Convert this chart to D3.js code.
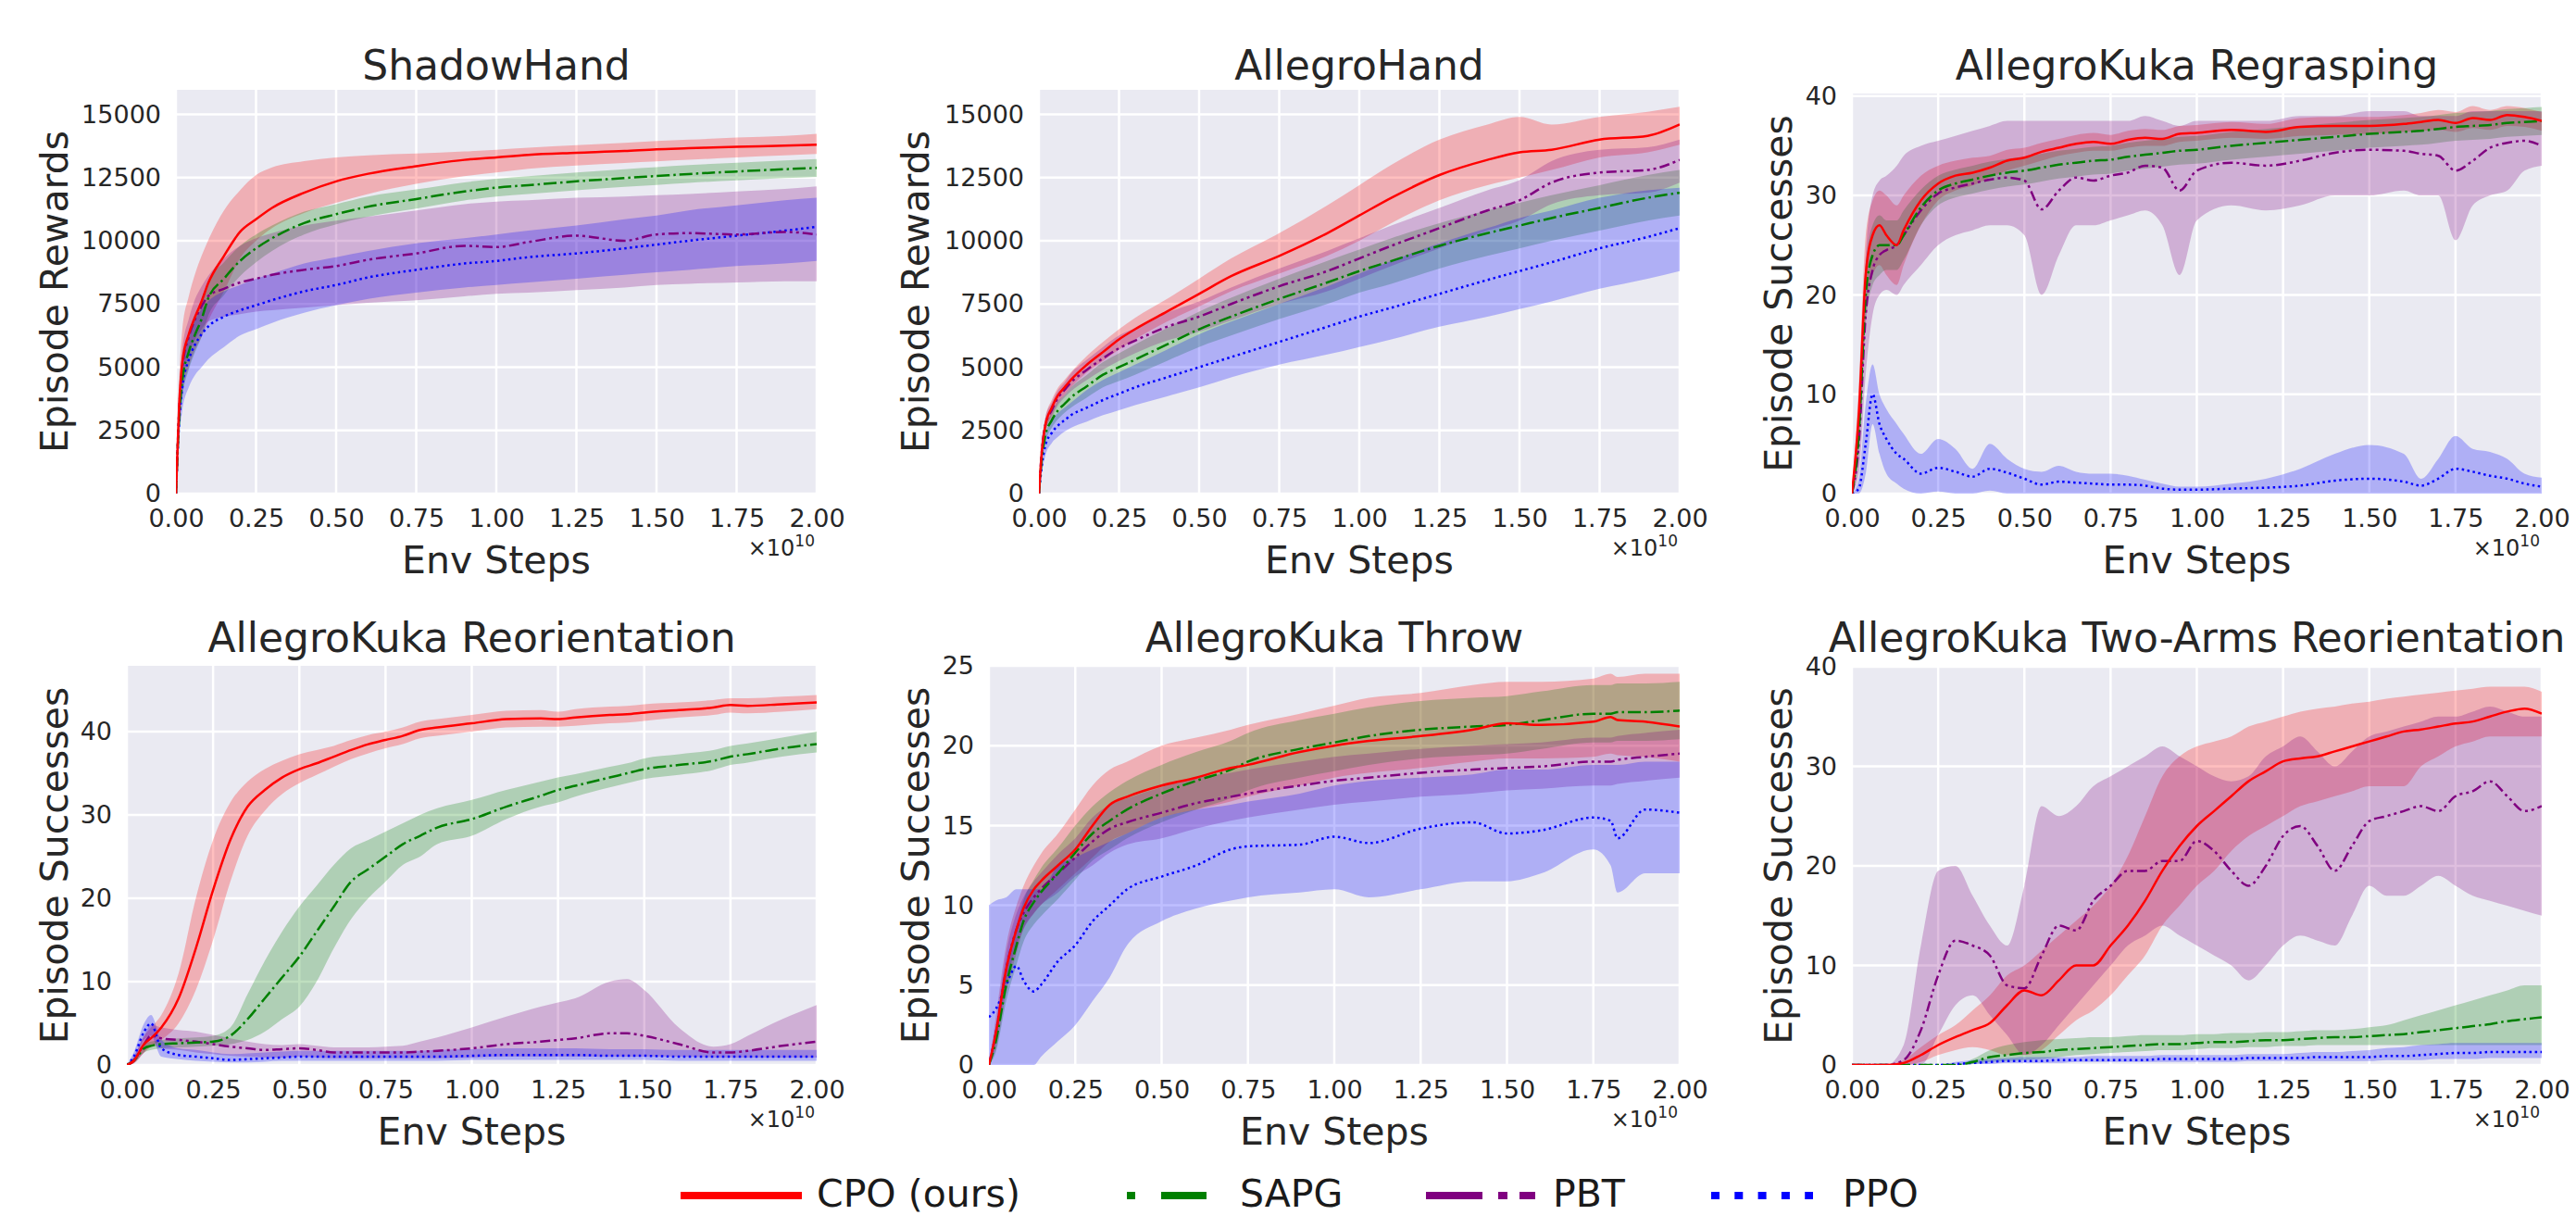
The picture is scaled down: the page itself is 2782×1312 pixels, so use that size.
<!DOCTYPE html>
<html>
<head>
<meta charset="utf-8">
<script src="https://cdn.jsdelivr.net/npm/d3@7"></script>
<style>
  body { margin: 0; background: #fff; }
  svg text { font-family: "DejaVu Sans", sans-serif; fill: #262626; }
</style>
</head>
<body>
<div id="cont"></div>
<script>

// tick values and labels
var stepTicks = [0, 0.25, 0.5, 0.75, 1.0, 1.25, 1.5, 1.75, 2.0];
var stepLabels = ["0.00", "0.25", "0.50", "0.75", "1.00", "1.25", "1.50", "1.75", "2.00"];
var rewardTicks = [0, 2500, 5000, 7500, 10000, 12500, 15000];
var successTicks = [0, 10, 20, 30, 40];
var throwTicks = [0, 5, 10, 15, 20, 25];

// ---------- ShadowHand ----------
var shadowX = [0, 0.01, 0.02, 0.04, 0.06, 0.08, 0.1, 0.15, 0.2, 0.25, 0.3, 0.4, 0.5, 0.6, 0.75, 0.9, 1.0, 1.1, 1.25, 1.4, 1.5, 1.6, 1.75, 1.9, 2.0];
var shadowCPO   = [0, 3500, 5200, 6300, 7000, 7600, 8300, 9400, 10350, 10850, 11300, 11900, 12350, 12650, 12950, 13200, 13300, 13400, 13480, 13550, 13620, 13660, 13720, 13760, 13800];
var shadowCPOLo = [0, 2500, 3900, 5000, 5700, 6200, 6800, 8000, 9300, 10000, 10500, 11100, 11500, 11850, 12250, 12550, 12700, 12850, 12980, 13080, 13140, 13200, 13300, 13380, 13430];
var shadowCPOHi = [0, 4500, 6500, 7800, 8700, 9400, 10000, 11200, 12000, 12600, 12900, 13150, 13300, 13380, 13450, 13530, 13600, 13680, 13780, 13870, 13950, 14000, 14080, 14150, 14230];
var shadowSAPG   = [0, 3000, 4500, 5600, 6300, 6900, 7700, 8500, 9200, 9700, 10100, 10700, 11050, 11350, 11650, 11950, 12100, 12200, 12350, 12480, 12560, 12640, 12740, 12830, 12880];
var shadowSAPGLo = [0, 2500, 3800, 4900, 5600, 6200, 7000, 7850, 8600, 9150, 9600, 10250, 10650, 10950, 11270, 11590, 11750, 11850, 12000, 12130, 12210, 12290, 12390, 12480, 12530];
var shadowSAPGHi = [0, 3500, 5200, 6300, 7000, 7600, 8400, 9150, 9800, 10250, 10600, 11150, 11450, 11750, 12030, 12310, 12450, 12550, 12700, 12830, 12910, 12990, 13090, 13180, 13230];
var shadowPBT   = [0, 3300, 5000, 6200, 6900, 7400, 7800, 8100, 8350, 8500, 8650, 8850, 9000, 9250, 9500, 9800, 9750, 9950, 10200, 10000, 10250, 10300, 10250, 10350, 10250];
var shadowPBTLo = [0, 2800, 4300, 5500, 6100, 6500, 6800, 7000, 7100, 7200, 7250, 7350, 7450, 7550, 7650, 7800, 7900, 7950, 8050, 8150, 8250, 8300, 8350, 8400, 8400];
var shadowPBTHi = [0, 3800, 5700, 6900, 7700, 8200, 8600, 9300, 9800, 10100, 10300, 10600, 10800, 10950, 11200, 11450, 11550, 11600, 11700, 11750, 11800, 11850, 11950, 12050, 12150];
var shadowPPO   = [0, 2800, 4200, 5300, 5900, 6300, 6600, 7000, 7250, 7450, 7650, 8000, 8250, 8550, 8850, 9100, 9200, 9350, 9500, 9700, 9850, 10000, 10200, 10400, 10550];
var shadowPPOLo = [0, 2200, 3300, 4200, 4700, 5000, 5300, 5800, 6250, 6500, 6750, 7150, 7450, 7700, 7950, 8150, 8250, 8350, 8500, 8650, 8750, 8850, 9000, 9100, 9200];
var shadowPPOHi = [0, 3400, 5000, 6300, 6900, 7300, 7600, 8000, 8250, 8500, 8700, 9100, 9350, 9600, 9900, 10100, 10250, 10400, 10600, 10850, 11000, 11200, 11400, 11600, 11700];

// ---------- AllegroHand ----------
var allegroX = [0, 0.01, 0.02, 0.04, 0.06, 0.08, 0.1, 0.15, 0.2, 0.25, 0.3, 0.4, 0.5, 0.6, 0.75, 0.9, 1.0, 1.1, 1.25, 1.4, 1.5, 1.6, 1.75, 1.9, 2.0];
var allegroCPO   = [0, 1800, 2700, 3400, 3900, 4200, 4500, 5100, 5600, 6100, 6500, 7200, 7900, 8600, 9400, 10300, 11000, 11700, 12600, 13200, 13500, 13600, 14000, 14150, 14600];
var allegroCPOLo = [0, 1500, 2400, 3100, 3600, 3900, 4200, 4800, 5250, 5700, 6100, 6800, 7400, 8000, 8700, 9400, 10000, 10700, 11600, 12200, 12500, 12800, 13300, 13500, 13800];
var allegroCPOHi = [0, 2100, 3000, 3700, 4200, 4500, 4800, 5450, 6000, 6500, 6950, 7700, 8500, 9300, 10300, 11400, 12200, 13000, 14000, 14600, 14900, 14600, 14900, 15100, 15300];
var allegroSAPG   = [0, 1500, 2300, 2900, 3300, 3550, 3800, 4250, 4700, 5000, 5300, 5900, 6500, 7000, 7700, 8350, 8800, 9200, 9800, 10300, 10600, 10900, 11300, 11700, 11900];
var allegroSAPGLo = [0, 1300, 2000, 2600, 2950, 3200, 3400, 3800, 4200, 4450, 4700, 5250, 5800, 6250, 6900, 7500, 7950, 8300, 8900, 9400, 9700, 10000, 10400, 10800, 11000];
var allegroSAPGHi = [0, 1700, 2600, 3200, 3650, 3900, 4200, 4700, 5200, 5550, 5900, 6550, 7200, 7750, 8500, 9200, 9650, 10100, 10700, 11200, 11500, 11800, 12200, 12600, 12800];
var allegroPBT   = [0, 1800, 2700, 3300, 3800, 4100, 4400, 4900, 5350, 5750, 6050, 6600, 7000, 7500, 8200, 8800, 9300, 9800, 10500, 11200, 11600, 12300, 12700, 12800, 13200];
var allegroPBTLo = [0, 1600, 2400, 3000, 3500, 3800, 4050, 4500, 4900, 5250, 5550, 6050, 6400, 6850, 7500, 8000, 8500, 9000, 9700, 10400, 10800, 11450, 11800, 11900, 12300];
var allegroPBTHi = [0, 2000, 3000, 3600, 4100, 4400, 4750, 5300, 5800, 6250, 6550, 7150, 7600, 8150, 8900, 9600, 10100, 10600, 11300, 12000, 12400, 13150, 13600, 13700, 14000];
var allegroPPO   = [0, 1200, 1900, 2400, 2700, 2900, 3100, 3400, 3700, 3950, 4200, 4600, 5000, 5400, 6000, 6600, 7000, 7350, 7900, 8450, 8800, 9150, 9700, 10150, 10500];
var allegroPPOLo = [0, 900, 1500, 2000, 2250, 2450, 2600, 2850, 3100, 3300, 3500, 3850, 4200, 4600, 5100, 5500, 5800, 6100, 6600, 7000, 7300, 7600, 8100, 8500, 8800];
var allegroPPOHi = [0, 1500, 2300, 2900, 3200, 3400, 3600, 4100, 4500, 4800, 5100, 5700, 6300, 6800, 7500, 8200, 8700, 9200, 9900, 10500, 10900, 11200, 11700, 12000, 12100];

// ---------- AllegroKuka Regrasping ----------
var regraspX = [0, 0.02, 0.04, 0.06, 0.08, 0.1, 0.13, 0.15, 0.2, 0.25, 0.3, 0.35, 0.4, 0.45, 0.5, 0.55, 0.6, 0.65, 0.7, 0.75, 0.8, 0.85, 0.9, 0.95, 1.0, 1.1, 1.2, 1.3, 1.4, 1.5, 1.6, 1.65, 1.7, 1.75, 1.8, 1.85, 1.9, 1.95, 2.0];
var regraspCPO   = [0, 8, 22, 26, 27, 26, 25, 26.5, 29.5, 31.2, 32, 32.3, 32.8, 33.5, 33.8, 34.4, 34.8, 35.2, 35.4, 35.2, 35.6, 35.8, 35.7, 36.2, 36.3, 36.6, 36.4, 36.9, 37, 37, 37.2, 37.4, 37.6, 37.3, 37.8, 37.6, 38.1, 37.9, 37.5];
var regraspCPOLo = [0, 5, 18, 22, 23, 22, 21, 23, 27, 29.5, 30.5, 31, 31.8, 32.5, 33, 33.5, 34, 34.3, 34.5, 34.5, 34.8, 35, 35, 35.4, 35.5, 35.8, 35.7, 36, 36.1, 36.2, 36.4, 36.5, 36.6, 36.4, 36.8, 36.6, 37, 36.9, 36.5];
var regraspCPOHi = [0, 11, 26, 29.5, 30.5, 30, 29, 30, 32, 33, 33.5, 33.8, 34, 34.6, 34.8, 35.3, 35.7, 36.1, 36.3, 36.1, 36.5, 36.7, 36.6, 37, 37.1, 37.4, 37.2, 37.8, 37.9, 37.9, 38.1, 38.3, 38.6, 38.4, 39, 38.6, 39, 38.8, 38.4];
var regraspSAPG   = [0, 6, 20, 24, 25, 25, 25, 26, 28.8, 30.5, 31.2, 31.6, 32, 32.3, 32.5, 32.8, 33.1, 33.3, 33.5, 33.6, 33.9, 34.1, 34.3, 34.5, 34.6, 35, 35.3, 35.6, 35.9, 36.2, 36.4, 36.5, 36.7, 36.9, 37, 37.1, 37.3, 37.4, 37.5];
var regraspSAPGLo = [0, 4, 17, 21, 22, 22.5, 22.5, 23.5, 27, 29, 29.8, 30.2, 30.6, 30.9, 31.1, 31.4, 31.7, 31.9, 32.1, 32.2, 32.5, 32.7, 32.9, 33.1, 33.2, 33.6, 33.9, 34.2, 34.5, 34.8, 35, 35.1, 35.3, 35.5, 35.6, 35.7, 35.9, 36, 36.1];
var regraspSAPGHi = [0, 8, 23, 27, 28, 27.5, 27.5, 28.5, 30.6, 32, 32.6, 33, 33.4, 33.7, 33.9, 34.2, 34.5, 34.7, 34.9, 35, 35.3, 35.5, 35.7, 35.9, 36, 36.4, 36.7, 37, 37.3, 37.6, 37.8, 37.9, 38.1, 38.3, 38.4, 38.5, 38.7, 38.8, 38.9];
var regraspPBT   = [0, 5, 18, 22.5, 24, 24.5, 25, 26, 28.5, 30.2, 30.8, 31.2, 31.6, 31.8, 31.5, 28.6, 30.5, 31.8, 31.5, 32, 32.3, 33, 32.8, 30.5, 32.5, 33.3, 33, 33.5, 34.3, 34.6, 34.5, 34.2, 34, 32.5, 33.5, 34.8, 35.3, 35.5, 35];
var regraspPBTLo = [0, 2, 12, 18, 20, 20.5, 20, 21, 23, 25, 26, 26.5, 27, 27, 26, 20, 24, 27, 27, 27.5, 28, 28.5, 27, 22, 27.5, 29, 28.5, 29, 30, 30, 30.5, 30, 30, 25.5, 29, 30, 30.5, 32.5, 33];
var regraspPBTHi = [0, 8, 24, 30, 31.5, 32, 33, 34, 35, 35.5, 36, 36.5, 37, 37.5, 37.5, 37.5, 37.5, 37.5, 37.5, 37.5, 37.5, 38, 37.5, 37, 37.5, 37.5, 37.5, 38, 38, 38.5, 38.5, 38, 38, 38, 38.5, 38.5, 38.5, 38.5, 38.5];
var regraspPPO   = [0, 0.5, 5, 10, 7, 5.5, 4, 3.5, 2, 2.6, 2.2, 1.7, 2.5, 2.1, 1.5, 0.9, 1.2, 1.1, 1.0, 0.9, 0.9, 0.8, 0.5, 0.4, 0.4, 0.5, 0.6, 0.8, 1.3, 1.5, 1.2, 0.8, 1.5, 2.5, 2.2, 1.8, 1.5, 1.0, 0.7];
var regraspPPOLo = [0, 0, 2, 7, 4, 2, 1, 0.5, 0, 0.2, 0, 0, 0.3, 0, 0, 0, 0, 0, 0, 0, 0, 0, 0, 0, 0, 0, 0, 0, 0, 0, 0, 0, 0, 0, 0, 0, 0, 0, 0];
var regraspPPOHi = [0, 1.5, 9, 13, 10, 8.5, 7, 6, 4, 5.5, 4.5, 2.5, 5, 3.5, 2.5, 2.2, 2.8, 2.2, 2.0, 2.0, 1.8, 1.4, 1.0, 0.7, 0.7, 1.0, 1.5, 2.5, 4.0, 4.9, 4.0, 1.5, 3.5, 5.8, 4.5, 4.2, 3.5, 2.0, 1.6];

// ---------- AllegroKuka Reorientation ----------
var reorientX = [0, 0.02, 0.05, 0.07, 0.1, 0.15, 0.2, 0.25, 0.3, 0.35, 0.4, 0.45, 0.5, 0.55, 0.6, 0.65, 0.7, 0.75, 0.8, 0.85, 0.9, 1.0, 1.1, 1.2, 1.25, 1.3, 1.4, 1.45, 1.5, 1.6, 1.7, 1.75, 1.8, 1.9, 2.0];
var reorientCPO   = [0, 0.5, 2.5, 3.2, 4.5, 8, 14, 21, 27, 31, 33, 34.5, 35.5, 36.2, 37, 37.8, 38.5, 39, 39.5, 40.2, 40.5, 41, 41.5, 41.6, 41.5, 41.7, 42, 42.1, 42.3, 42.6, 42.9, 43.2, 43.1, 43.3, 43.5];
var reorientCPOLo = [0, 0.2, 1.5, 2.2, 3, 5, 9, 15, 22, 27.5, 30.5, 32.5, 33.8, 34.8, 35.8, 36.7, 37.4, 38, 38.5, 39.2, 39.5, 40, 40.5, 40.6, 40.6, 40.7, 41, 41.1, 41.3, 41.7, 42, 42.3, 42.2, 42.4, 42.7];
var reorientCPOHi = [0, 1, 3.5, 4.5, 6, 11, 20, 27, 31.5, 34, 35.5, 36.5, 37.3, 37.8, 38.3, 39, 39.6, 40, 40.5, 41.2, 41.5, 42, 42.5, 42.6, 42.4, 42.7, 43, 43.1, 43.3, 43.5, 43.8, 44, 44, 44.2, 44.4];
var reorientSAPG   = [0, 0.5, 2, 2.3, 2.5, 2.6, 2.7, 2.8, 3.5, 5.5, 8, 10.5, 13, 16, 19, 22, 23.5, 25, 26.5, 27.5, 28.5, 29.5, 31, 32.3, 33, 33.5, 34.5, 35, 35.5, 36, 36.5, 37, 37.3, 38, 38.5];
var reorientSAPGLo = [0, 0.3, 1.5, 1.8, 2, 2.1, 2.2, 2.3, 2.5, 3, 4, 5.5, 7, 10, 14, 17.5, 20, 22, 24, 25, 26.5, 27.5, 29.5, 31, 31.5, 32.2, 33.3, 33.8, 34.3, 34.8, 35.4, 36, 36.3, 37, 37.5];
var reorientSAPGHi = [0, 0.8, 2.5, 2.8, 3, 3.2, 3.3, 3.5, 4.5, 8.5, 12.5, 16, 19, 21.5, 24, 26, 27, 28, 29, 30, 30.8, 31.8, 33, 34, 34.5, 34.9, 35.8, 36.2, 36.8, 37.3, 37.8, 38.3, 38.6, 39.3, 40];
var reorientPBT   = [0, 0.5, 2.5, 3.5, 3.2, 3, 2.8, 2.5, 2.2, 2, 1.8, 1.9, 2.0, 1.8, 1.5, 1.5, 1.5, 1.5, 1.5, 1.6, 1.7, 2.0, 2.5, 2.8, 3.0, 3.2, 3.8, 3.8, 3.5, 2.5, 1.5, 1.5, 1.7, 2.3, 2.8];
var reorientPBTLo = [0, 0.2, 1.5, 2.5, 2, 1.8, 1.5, 1.3, 1.1, 1, 0.9, 0.9, 1, 0.9, 0.8, 0.8, 0.8, 0.8, 0.8, 0.8, 0.8, 0.9, 1, 1, 1, 1, 1, 1, 1, 1, 0.9, 0.9, 0.9, 0.9, 0.9];
var reorientPBTHi = [0, 1, 3.5, 4.8, 4.5, 4.2, 4, 3.6, 3.2, 2.8, 2.5, 2.4, 2.5, 2.3, 2.1, 2.1, 2.1, 2.2, 2.3, 2.8, 3.3, 4.5, 5.8, 7, 7.5, 8, 10, 10.3, 9, 4.5, 2.2, 2.5, 3.5, 5.5, 7.2];
var reorientPPO   = [0, 1, 4, 5, 2, 1.2, 1, 0.8, 0.6, 0.7, 0.8, 0.9, 1, 1, 1, 1, 1, 1, 1, 1, 1, 1.1, 1.2, 1.2, 1.2, 1.2, 1.1, 1.1, 1.1, 1, 1, 1, 1, 1, 1];
var reorientPPOLo = [0, 0.5, 3, 3.5, 1, 0.7, 0.5, 0.4, 0.3, 0.3, 0.4, 0.5, 0.5, 0.5, 0.5, 0.5, 0.5, 0.5, 0.5, 0.5, 0.5, 0.6, 0.6, 0.6, 0.6, 0.6, 0.6, 0.6, 0.6, 0.5, 0.5, 0.5, 0.5, 0.5, 0.5];
var reorientPPOHi = [0, 1.5, 5, 6, 3, 2, 1.8, 1.5, 1.3, 1.4, 1.5, 1.6, 1.7, 1.7, 1.7, 1.7, 1.7, 1.7, 1.7, 1.7, 1.8, 1.9, 2, 2, 2, 2, 1.9, 1.9, 1.9, 1.8, 1.8, 1.8, 1.8, 1.8, 1.8];

// ---------- AllegroKuka Throw ----------
var throwX = [0, 0.02, 0.05, 0.08, 0.1, 0.13, 0.15, 0.2, 0.25, 0.3, 0.35, 0.4, 0.5, 0.6, 0.7, 0.75, 0.9, 1.0, 1.1, 1.25, 1.4, 1.5, 1.6, 1.75, 1.8, 1.82, 1.9, 2.0];
var throwCPO   = [0, 2, 6, 8.5, 9.8, 11, 11.5, 12.5, 13.5, 15, 16.3, 16.8, 17.5, 18, 18.6, 18.8, 19.6, 20, 20.3, 20.6, 21, 21.4, 21.3, 21.5, 21.8, 21.6, 21.5, 21.2];
var throwCPOLo = [0, 1, 4.5, 7, 8.5, 9.5, 10, 11, 12, 13, 14, 14.5, 15.5, 16, 16.5, 16.8, 17.5, 18, 18.3, 18.6, 19, 19.2, 19.2, 19.3, 19.5, 19.4, 19.3, 19];
var throwCPOHi = [0, 3, 7.5, 10, 11.2, 12.5, 13.2, 14.5, 16, 17.5, 18.5, 19, 20, 20.5, 21, 21.3, 22, 22.5, 23, 23.3, 23.8, 24, 24, 24.2, 24.5, 24.3, 24.5, 24.5];
var throwSAPG   = [0, 1.5, 5, 7.5, 9, 10.2, 10.8, 12, 13.3, 14.5, 15.3, 16, 17, 17.8, 18.5, 19, 19.8, 20.2, 20.6, 21, 21.2, 21.3, 21.6, 22, 22, 22.1, 22.1, 22.2];
var throwSAPGLo = [0, 0.8, 4, 6.3, 7.7, 8.8, 9.3, 10.4, 11.6, 12.8, 13.5, 14.2, 15.2, 16, 16.7, 17.2, 18, 18.4, 18.8, 19.2, 19.4, 19.5, 19.8, 20.2, 20.2, 20.3, 20.3, 20.4];
var throwSAPGHi = [0, 2.2, 6, 8.7, 10.3, 11.6, 12.3, 13.6, 15, 16.2, 17.1, 17.8, 18.8, 19.6, 20.3, 20.8, 21.6, 22, 22.4, 22.8, 23, 23.1, 23.4, 23.8, 23.8, 23.9, 23.9, 24];
var throwPBT   = [0, 2, 6, 8.5, 9.5, 10.5, 11, 12, 13, 14, 14.8, 15.2, 15.8, 16.4, 16.8, 17, 17.5, 17.8, 18, 18.3, 18.5, 18.6, 18.7, 19, 19, 19.1, 19.3, 19.5];
var throwPBTLo = [0, 1.5, 5, 7.5, 8.5, 9.5, 10, 10.8, 11.8, 12.5, 13.3, 13.8, 14.2, 14.8, 15.3, 15.5, 16, 16.3, 16.5, 16.8, 17, 17.2, 17.3, 17.5, 17.5, 17.6, 17.8, 18];
var throwPBTHi = [0, 2.5, 7, 9.5, 10.5, 11.5, 12, 13.2, 14.2, 15.5, 16.3, 16.7, 17.4, 18, 18.3, 18.5, 19, 19.3, 19.5, 19.8, 20, 20.1, 20.2, 20.5, 20.5, 20.6, 20.8, 21];
var throwPPO   = [3, 3.5, 5, 6.2, 5.3, 4.6, 5, 6.5, 7.5, 9, 10, 11, 11.8, 12.5, 13.5, 13.7, 13.8, 14.3, 13.9, 14.8, 15.2, 14.5, 14.7, 15.5, 15.3, 14.2, 16, 15.8];
var throwPPOLo = [0, 0, 0, 0, 0, 0, 0.5, 1.5, 2.5, 4, 5.5, 7.5, 9, 9.8, 10.3, 10.5, 10.8, 11, 10.5, 11, 11.5, 11.5, 12, 13.5, 12.5, 10.8, 12, 12];
var throwPPOHi = [10, 10.3, 10.5, 11, 11, 11, 11, 12.5, 13, 13.5, 14, 14.5, 15.5, 16, 16.3, 16.5, 17, 17.5, 17.8, 18, 18.2, 18.5, 18.5, 18.8, 18.8, 18.8, 19, 19];

// ---------- AllegroKuka Two-Arms Reorientation ----------
var twoArmX = [0, 0.05, 0.1, 0.15, 0.2, 0.25, 0.3, 0.35, 0.4, 0.45, 0.5, 0.55, 0.6, 0.65, 0.7, 0.75, 0.8, 0.85, 0.9, 0.95, 1.0, 1.05, 1.1, 1.15, 1.2, 1.25, 1.3, 1.35, 1.4, 1.45, 1.5, 1.55, 1.6, 1.65, 1.7, 1.75, 1.8, 1.85, 1.9, 1.95, 2.0];
var twoArmCPO   = [0, 0, 0, 0.2, 1, 2, 2.8, 3.5, 4.2, 6, 7.5, 7, 8.5, 10, 10, 12, 14, 16.5, 19.5, 22, 24, 25.5, 27, 28.5, 29.5, 30.5, 30.8, 31, 31.5, 32, 32.5, 33, 33.5, 33.7, 34, 34.3, 34.5, 35, 35.5, 35.8, 35.3];
var twoArmCPOLo = [0, 0, 0, 0, 0.3, 1, 1.5, 1.8, 1.5, 1, 1, 1.5, 3, 4.5, 5.5, 7, 9, 11, 14, 16, 18, 19.5, 21.5, 23, 24, 25, 26, 26.5, 27, 27.5, 28, 28, 28, 30, 31, 32, 32.5, 33, 33, 33, 33];
var twoArmCPOHi = [0, 0, 0, 0.5, 1.8, 3, 4, 5.5, 7, 9, 10, 11.5, 13, 14.5, 16, 18, 21, 25, 29, 31, 32, 32.5, 33, 34, 34.5, 35, 35.5, 35.8, 36, 36.3, 36.5, 36.8, 37, 37.2, 37.4, 37.6, 37.8, 38, 38, 38, 37.5];
var twoArmSAPG   = [0, 0, 0, 0, 0, 0, 0, 0.3, 0.8, 1, 1.2, 1.3, 1.5, 1.6, 1.7, 1.8, 1.9, 2.0, 2.1, 2.1, 2.2, 2.3, 2.3, 2.4, 2.5, 2.5, 2.6, 2.7, 2.8, 2.8, 2.9, 3, 3.1, 3.3, 3.5, 3.7, 3.9, 4.1, 4.4, 4.6, 4.8];
var twoArmSAPGLo = [0, 0, 0, 0, 0, 0, 0, 0.1, 0.3, 0.4, 0.5, 0.6, 0.8, 1, 1.1, 1.2, 1.3, 1.4, 1.5, 1.5, 1.6, 1.7, 1.7, 1.8, 1.8, 1.9, 1.9, 2, 2, 2, 2, 2, 2, 2, 2, 2, 2, 2, 2, 2, 2];
var twoArmSAPGHi = [0, 0, 0, 0, 0, 0, 0, 0.6, 1.5, 2, 2.3, 2.5, 2.6, 2.7, 2.8, 2.8, 2.9, 3, 3, 3, 3.1, 3.1, 3.2, 3.2, 3.3, 3.3, 3.4, 3.5, 3.5, 3.6, 3.8, 4, 4.5, 5, 5.5, 6, 6.5, 7, 7.5, 8, 8];
var twoArmPBT   = [0, 0, 0, 0.5, 3.5, 9, 12.5, 12, 11, 8, 7.7, 11, 14, 13.5, 16.5, 18, 19.5, 19.5, 20.5, 20.5, 22.5, 21.5, 19.5, 18, 20, 23, 24, 22, 19.5, 22, 24.5, 25, 25.5, 26, 25.5, 27, 27.5, 28.5, 27, 25.5, 26];
var twoArmPBTLo = [0, 0, 0, 0, 0, 3, 6, 7, 5, 3, 1, 2, 4, 6, 8, 10, 12, 13, 14, 13, 12, 11, 10, 8.5, 10, 12, 13, 12.5, 12, 15, 18, 17, 17, 18, 19, 18, 17, 16.5, 16, 15.5, 15];
var twoArmPBTHi = [0, 0, 0, 2, 12, 19.5, 20, 17, 14, 12, 18, 26, 25, 26, 28, 29, 30, 31, 32, 31, 30, 29, 28.5, 29, 31, 32, 33, 31.5, 30, 31.5, 33, 33.5, 34, 34.5, 35, 35, 35.5, 36, 35.5, 35, 35];
var twoArmPPO   = [0, 0, 0, 0, 0, 0, 0.1, 0.2, 0.3, 0.4, 0.4, 0.4, 0.5, 0.5, 0.5, 0.5, 0.5, 0.5, 0.6, 0.6, 0.6, 0.6, 0.6, 0.7, 0.7, 0.7, 0.7, 0.8, 0.8, 0.8, 0.8, 0.9, 0.9, 1.0, 1.1, 1.2, 1.2, 1.3, 1.3, 1.3, 1.3];
var twoArmPPOLo = [0, 0, 0, 0, 0, 0, 0, 0.1, 0.1, 0.2, 0.2, 0.2, 0.2, 0.3, 0.3, 0.3, 0.3, 0.3, 0.3, 0.3, 0.3, 0.3, 0.3, 0.4, 0.4, 0.4, 0.4, 0.4, 0.4, 0.4, 0.4, 0.5, 0.5, 0.5, 0.6, 0.6, 0.6, 0.7, 0.7, 0.7, 0.7];
var twoArmPPOHi = [0, 0, 0, 0, 0, 0, 0.3, 0.5, 0.6, 0.7, 0.8, 0.8, 0.8, 0.8, 0.9, 0.9, 0.9, 0.9, 1, 1, 1, 1, 1, 1.1, 1.1, 1.1, 1.2, 1.3, 1.3, 1.4, 1.5, 1.7, 1.8, 2, 2.1, 2.2, 2.2, 2.2, 2.2, 2.2, 2.2];


// styles for the four methods
var colors = {cpo: "#ff0000", sapg: "#008000", pbt: "#800080", ppo: "#0000ff"};
var dashes = {cpo: null, sapg: "14,4,2.5,4", pbt: "11,4,3,4,3,4", ppo: "2.5,3.5"};

// panel layout (pixel boxes) + which arrays go where
var panels = [
  {title: "ShadowHand", ylabel: "Episode Rewards", left: 190, right: 882, top: 97, bottom: 533,
   ymax: 15970, yTicks: rewardTicks, labelX: 73, titleY: 86, xs: shadowX,
   series: {cpo: [shadowCPO, shadowCPOLo, shadowCPOHi], sapg: [shadowSAPG, shadowSAPGLo, shadowSAPGHi],
            pbt: [shadowPBT, shadowPBTLo, shadowPBTHi], ppo: [shadowPPO, shadowPPOLo, shadowPPOHi]}},
  {title: "AllegroHand", ylabel: "Episode Rewards", left: 1122, right: 1814, top: 97, bottom: 533,
   ymax: 15970, yTicks: rewardTicks, labelX: 1003, titleY: 86, xs: allegroX,
   series: {cpo: [allegroCPO, allegroCPOLo, allegroCPOHi], sapg: [allegroSAPG, allegroSAPGLo, allegroSAPGHi],
            pbt: [allegroPBT, allegroPBTLo, allegroPBTHi], ppo: [allegroPPO, allegroPPOLo, allegroPPOHi]}},
  {title: "AllegroKuka Regrasping", ylabel: "Episode Successes", left: 2000, right: 2745, top: 101, bottom: 533,
   ymax: 40.26, yTicks: successTicks, labelX: 1935, titleY: 86, xs: regraspX,
   series: {cpo: [regraspCPO, regraspCPOLo, regraspCPOHi], sapg: [regraspSAPG, regraspSAPGLo, regraspSAPGHi],
            pbt: [regraspPBT, regraspPBTLo, regraspPBTHi], ppo: [regraspPPO, regraspPPOLo, regraspPPOHi]}},
  {title: "AllegroKuka Reorientation", ylabel: "Episode Successes", left: 137, right: 882, top: 719, bottom: 1150,
   ymax: 47.9, yTicks: successTicks, labelX: 73, titleY: 704, xs: reorientX,
   series: {cpo: [reorientCPO, reorientCPOLo, reorientCPOHi], sapg: [reorientSAPG, reorientSAPGLo, reorientSAPGHi],
            pbt: [reorientPBT, reorientPBTLo, reorientPBTHi], ppo: [reorientPPO, reorientPPOLo, reorientPPOHi]}},
  {title: "AllegroKuka Throw", ylabel: "Episode Successes", left: 1068, right: 1814, top: 719, bottom: 1150,
   ymax: 25, yTicks: throwTicks, labelX: 1003, titleY: 704, xs: throwX,
   series: {cpo: [throwCPO, throwCPOLo, throwCPOHi], sapg: [throwSAPG, throwSAPGLo, throwSAPGHi],
            pbt: [throwPBT, throwPBTLo, throwPBTHi], ppo: [throwPPO, throwPPOLo, throwPPOHi]}},
  {title: "AllegroKuka Two-Arms Reorientation", ylabel: "Episode Successes", left: 2000, right: 2745, top: 720, bottom: 1150,
   ymax: 40, yTicks: successTicks, labelX: 1935, titleY: 704, xs: twoArmX,
   series: {cpo: [twoArmCPO, twoArmCPOLo, twoArmCPOHi], sapg: [twoArmSAPG, twoArmSAPGLo, twoArmSAPGHi],
            pbt: [twoArmPBT, twoArmPBTLo, twoArmPBTHi], ppo: [twoArmPPO, twoArmPPOLo, twoArmPPOHi]}}
];

var svg = d3.select("#cont").append("svg")
    .attr("width", 2782)
    .attr("height", 1312);

svg.append("rect").attr("width", 2782).attr("height", 1312).style("fill", "#fff");

panels.forEach(function(p, k) {
  var x = d3.scaleLinear().domain([0, 2]).range([p.left, p.right]);
  var y = d3.scaleLinear().domain([0, p.ymax]).range([p.bottom, p.top]);
  var g = svg.append("g");

  // darkgrid background
  g.append("rect")
      .attr("x", p.left).attr("y", p.top)
      .attr("width", p.right - p.left).attr("height", p.bottom - p.top)
      .style("fill", "#eaeaf2");

  // white grid
  g.selectAll("line.gx").data(stepTicks).enter().append("line")
      .attr("class", "gx")
      .attr("x1", function(d) { return x(d); }).attr("x2", function(d) { return x(d); })
      .attr("y1", p.top).attr("y2", p.bottom)
      .style("stroke", "#fff").style("stroke-width", 2.5);
  g.selectAll("line.gy").data(p.yTicks).enter().append("line")
      .attr("class", "gy")
      .attr("x1", p.left).attr("x2", p.right)
      .attr("y1", function(d) { return y(d); }).attr("y2", function(d) { return y(d); })
      .style("stroke", "#fff").style("stroke-width", 2.5);

  // clip to the axes box
  g.append("clipPath").attr("id", "clip" + k)
    .append("rect")
      .attr("x", p.left).attr("y", p.top)
      .attr("width", p.right - p.left).attr("height", p.bottom - p.top);
  var plot = g.append("g").attr("clip-path", "url(#clip" + k + ")");

  var keys = ["cpo", "sapg", "pbt", "ppo"];

  // std bands
  keys.forEach(function(key) {
    var s = p.series[key];
    var band = d3.area()
        .curve(d3.curveMonotoneX)
        .x(function(d, i) { return x(p.xs[i]); })
        .y0(function(d, i) { return y(s[1][i]); })
        .y1(function(d, i) { return y(s[2][i]); });
    plot.append("path")
        .datum(s[0])
        .attr("d", band)
        .style("fill", colors[key])
        .style("fill-opacity", 0.25);
  });

  // mean lines, red on top
  keys.slice().reverse().forEach(function(key) {
    var s = p.series[key];
    var line = d3.line()
        .curve(d3.curveMonotoneX)
        .x(function(d, i) { return x(p.xs[i]); })
        .y(function(d) { return y(d); });
    plot.append("path")
        .datum(s[0])
        .attr("d", line)
        .style("fill", "none")
        .style("stroke", colors[key])
        .style("stroke-width", 2.5)
        .style("stroke-dasharray", dashes[key]);
  });

  // x axis
  var xa = g.append("g")
      .attr("transform", "translate(0," + p.bottom + ")")
      .call(d3.axisBottom(x)
          .tickValues(stepTicks)
          .tickFormat(function(d) { return stepLabels[stepTicks.indexOf(d)]; })
          .tickSize(0).tickPadding(17));
  xa.select(".domain").remove();
  xa.selectAll("text").style("font-size", "27px");

  // y axis
  var ya = g.append("g")
      .attr("transform", "translate(" + p.left + ",0)")
      .call(d3.axisLeft(y).tickValues(p.yTicks).tickFormat(d3.format("d")).tickSize(0).tickPadding(16));
  ya.select(".domain").remove();
  ya.selectAll("text").style("font-size", "27px");

  // offset text x10^10
  var off = g.append("text")
      .attr("x", p.right - 2)
      .attr("y", p.bottom + 67)
      .attr("text-anchor", "end")
      .style("font-size", "24px");
  off.append("tspan").text("\u00d710");
  off.append("tspan").attr("dy", -10).style("font-size", "17px").text("10");

  // labels
  g.append("text")
      .attr("x", (p.left + p.right) / 2)
      .attr("y", p.bottom + 86)
      .attr("text-anchor", "middle")
      .style("font-size", "41px")
      .text("Env Steps");

  g.append("text")
      .attr("transform", "translate(" + p.labelX + "," + ((p.top + p.bottom) / 2) + ") rotate(-90)")
      .attr("text-anchor", "middle")
      .style("font-size", "41px")
      .text(p.ylabel);

  g.append("text")
      .attr("x", (p.left + p.right) / 2)
      .attr("y", p.titleY)
      .attr("text-anchor", "middle")
      .style("font-size", "44px")
      .text(p.title);
});

// legend along the bottom
var legendItems = [
  {key: "cpo",  label: "CPO (ours)", x1: 735,  x2: 866,  dash: null,               tx: 882},
  {key: "sapg", label: "SAPG",       x1: 1217, x2: 1303, dash: "9,28,60",          tx: 1339},
  {key: "pbt",  label: "PBT",        x1: 1540, x2: 1658, dash: "61,17,10,13,17",   tx: 1677},
  {key: "ppo",  label: "PPO",        x1: 1848, x2: 1958, dash: "9,16.3",           tx: 1990}
];
var legend = svg.append("g");
legend.selectAll("line").data(legendItems).enter().append("line")
    .attr("x1", function(d) { return d.x1; })
    .attr("x2", function(d) { return d.x2; })
    .attr("y1", 1291).attr("y2", 1291)
    .style("stroke", function(d) { return colors[d.key]; })
    .style("stroke-width", 8)
    .style("stroke-dasharray", function(d) { return d.dash; });
legend.selectAll("text").data(legendItems).enter().append("text")
    .attr("x", function(d) { return d.tx; })
    .attr("y", 1303)
    .style("font-size", "41px")
    .style("fill", "#1a1a1a")
    .text(function(d) { return d.label; });

</script>
</body>
</html>
